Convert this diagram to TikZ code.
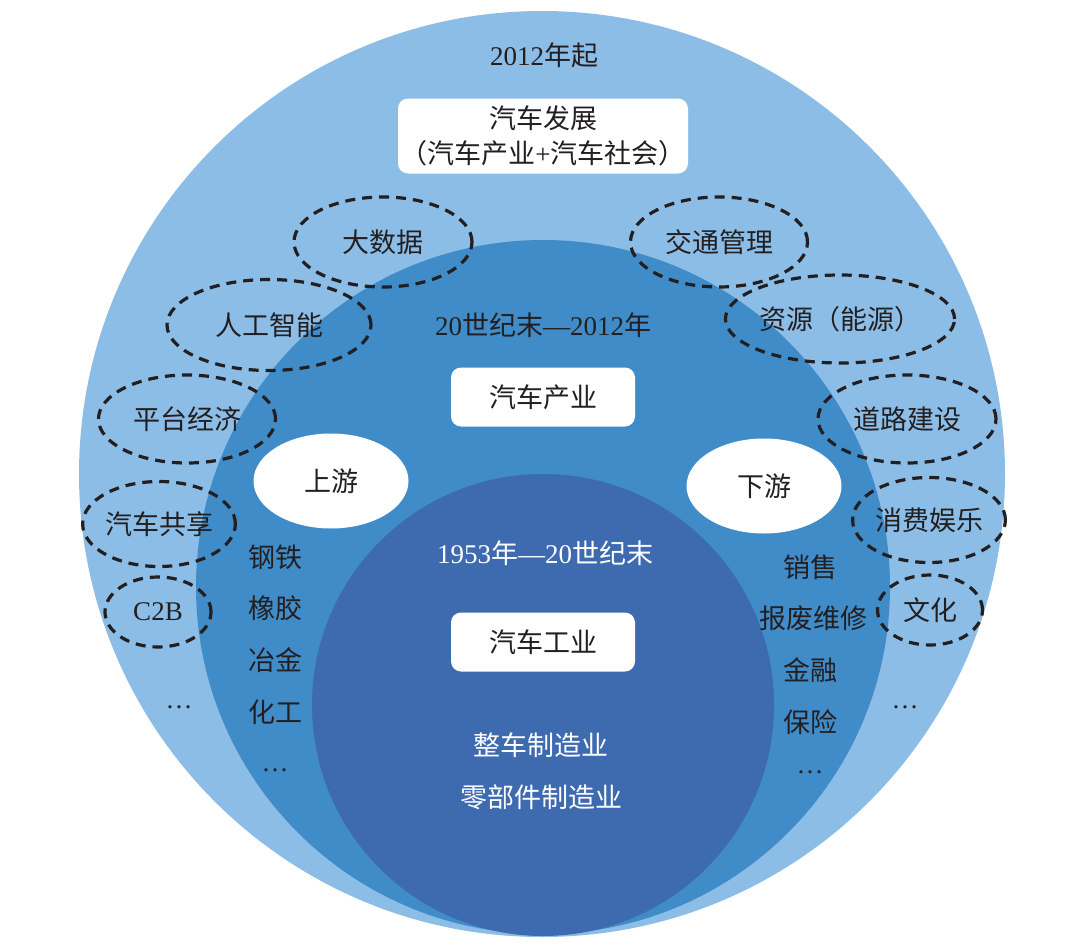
\documentclass[tikz,border=0pt]{standalone}
\usepackage{fontspec}
\setmainfont{Liberation Serif}
\newfontfamily\cjk{Noto Sans CJK SC}
\usepackage{tikz}
\usetikzlibrary{shapes.geometric}
\definecolor{outerblue}{HTML}{8CBDE6}
\definecolor{midblue}{HTML}{408CC9}
\definecolor{innerblue}{HTML}{3E6AB0}
\definecolor{ink}{HTML}{231F20}

\begin{document}
\begin{tikzpicture}[x=1pt, y=-1pt,
  txt/.style={text=ink, font=\fontsize{27}{35}\selectfont, inner sep=0pt},
  wtxt/.style={txt, text=white},
  cloud/.style={ellipse, draw=ink, dash pattern=on 10pt off 7pt, line width=3.2pt, txt},
  titlebox/.style={fill=white, rounded corners=10pt, txt, align=center},
  side/.style={ellipse, fill=white, txt, minimum width=155pt, minimum height=95pt}]
\useasboundingbox (0,0) rectangle (1080,945);
% the three periods
\fill[outerblue] (542,474) circle (463);
\fill[midblue] (543,587) circle (347);
\fill[innerblue] (543,705) circle (231);

% outer ring
\node[txt] (since) at (544,55) {2012{\cjk 年起}};
\node[titlebox, minimum width=290pt, minimum height=75pt] (dev) at (543,136) {{\cjk 汽车发展}\\{\cjk （汽车产业}+{\cjk 汽车社会）}};
\node[cloud, minimum width=178pt, minimum height=90pt] (bigdata) at (383,242) {\cjk 大数据};
\node[cloud, minimum width=204pt, minimum height=91pt] (ai) at (269,325) {\cjk 人工智能};
\node[cloud, minimum width=177pt, minimum height=88pt] (platform) at (187,419) {\cjk 平台经济};
\node[cloud, minimum width=137pt, minimum height=85pt] (sharing) at (159,524) {\cjk 汽车共享};
\node[cloud, minimum width=106pt, minimum height=70pt] (ctob) at (158,612) {C2B};
\node[txt] (moreleft) at (179,707) {…};
\node[cloud, minimum width=177pt, minimum height=90pt] (traffic) at (719,242) {\cjk 交通管理};
\node[cloud, minimum width=204pt, minimum height=88pt] (resource) at (840,319) {{\cjk 资源（能源）}};
\node[cloud, minimum width=178pt, minimum height=88pt] (road) at (907,419) {\cjk 道路建设};
\node[cloud, minimum width=138pt, minimum height=85pt] (leisure) at (929,520) {\cjk 消费娱乐};
\node[cloud, minimum width=105pt, minimum height=70pt] (culture) at (930,610) {\cjk 文化};
\node[txt] (moreright) at (905,707) {…};

% middle ring
\node[txt] (era2) at (543,325) {20{\cjk 世纪末}—2012{\cjk 年}};
\node[titlebox, minimum width=184pt, minimum height=59pt] (industry) at (543,397) {\cjk 汽车产业};
\node[side] (up) at (331,481) {\cjk 上游};
\node[side] (down) at (764,486) {\cjk 下游};
\node[txt] (steel) at (275,557) {\cjk 钢铁};
\node[txt] (rubber) at (275,608) {\cjk 橡胶};
\node[txt] (metal) at (275,660) {\cjk 冶金};
\node[txt] (chem) at (275,712) {\cjk 化工};
\node[txt] (upmore) at (275,770) {…};
\node[txt] (sales) at (810,567) {\cjk 销售};
\node[txt] (repair) at (813,618) {\cjk 报废维修};
\node[txt] (finance) at (810,670) {\cjk 金融};
\node[txt] (insure) at (810,722) {\cjk 保险};
\node[txt] (downmore) at (810,772) {…};

% inner circle
\node[wtxt] (era1) at (545,553) {1953{\cjk 年}—20{\cjk 世纪末}};
\node[titlebox, minimum width=184pt, minimum height=59pt] (manuf) at (543,642) {\cjk 汽车工业};
\node[wtxt] (vehicle) at (541,745) {\cjk 整车制造业};
\node[wtxt] (parts) at (541,797) {\cjk 零部件制造业};
\end{tikzpicture}
\end{document}
